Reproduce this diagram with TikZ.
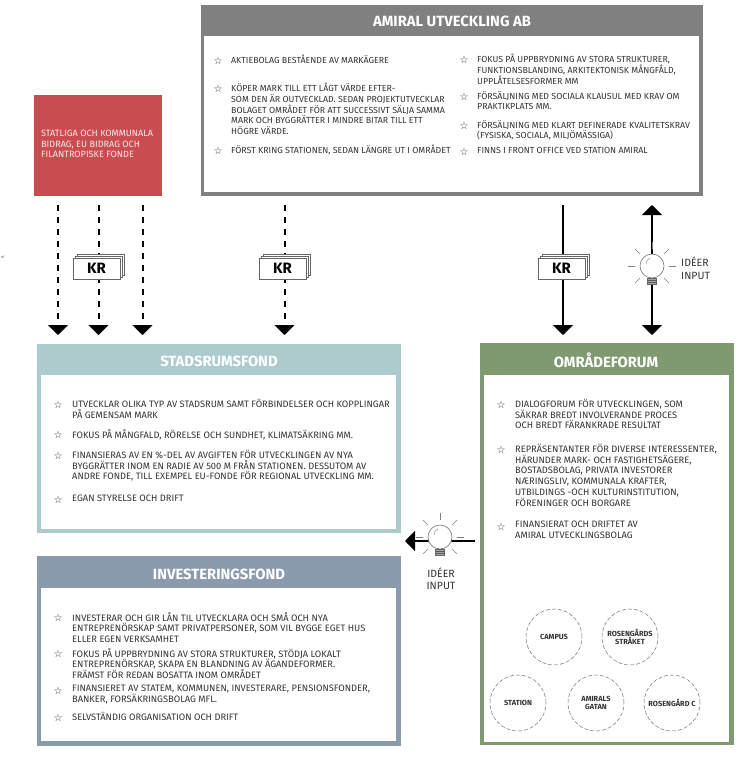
\documentclass[tikz,border=0pt]{standalone}
\usepackage{fontspec}
\setmainfont{Fira Sans}
\newfontfamily\starfont{DejaVu Sans}
\usetikzlibrary{arrows.meta,shadows}
\definecolor{amiralgray}{HTML}{808080}
\definecolor{fundred}{HTML}{C94C51}
\definecolor{stadteal}{HTML}{ADCBCC}
\definecolor{investblue}{HTML}{8A9BAE}
\definecolor{forumgreen}{HTML}{7F9A70}
\definecolor{inktext}{HTML}{333333}
\tikzset{
  itemtext/.style={anchor=north west, inner sep=0pt, yshift=5pt, align=left, text=inktext,
    font=\fontsize{9.3}{10.7}\selectfont, execute at begin node=\strut},
  amiraltext/.style={itemtext, font=\fontsize{8.8}{10.7}\selectfont},
  itemstar/.style={inner sep=0pt, yshift=-.5pt, text=inktext, font=\starfont\fontsize{10}{10}\selectfont},
  headtext/.style={inner sep=0pt, text=white, font=\bfseries\fontsize{14.8}{15}\selectfont},
  krbox/.style={draw=black!60, fill=white, line width=.6pt, inner sep=0pt,
    minimum width=47pt, minimum height=21pt, font=\bfseries\fontsize{15}{16}\selectfont,
    double copy shadow={shadow xshift=2pt, shadow yshift=2pt, draw=black!60, fill=white}},
  moneyflow/.style={line width=2pt, black, dash pattern=on 6pt off 6pt, -{Triangle[width=20pt,length=10pt]}},
  solidflow/.style={line width=2pt, black, -{Triangle[width=20pt,length=10pt]}},
  placecirc/.style={circle, draw=black!55, dash pattern=on 4pt off 2pt, line width=.5pt, minimum size=56pt,
    inner sep=0pt, align=center, text=inktext, font=\fontsize{7.4}{8.6}\selectfont\bfseries},
  ideatext/.style={inner sep=0pt, align=left, text=inktext, font=\fontsize{10.5}{12.5}\selectfont},
  pics/bulb/.style={code={
    \foreach \ang in {0,45,90,135,180,225,315}
      \draw[black!50, line width=.6pt] (\ang:17pt) -- (\ang:24pt);
    \draw[black!55, fill=white, line width=.6pt] (0,0) circle (12pt);
    \draw[black!45, line width=.5pt] (-6,-2) arc (180:110:6.5pt);
    \draw[black!60, fill=black!35, line width=.5pt] (-4.5,12) rectangle (4.5,18);
    \draw[black!65, line width=.5pt] (-4.5,14) -- (4.5,14) (-4.5,16) -- (4.5,16);
  }}
}
\begin{document}
\begin{tikzpicture}[x=1pt,y=-1pt]
\useasboundingbox (0,0) rectangle (755,757);
% panels
\fill[amiralgray] (201,5) rectangle (703,196);
\fill[white] (204,36) rectangle (699,192);
\fill[fundred] (34,95) rectangle (162,196);
\fill[stadteal] (37,344) rectangle (401,533);
\fill[white] (41,375) rectangle (396,529);
\fill[investblue] (37,556) rectangle (401,746);
\fill[white] (41,588) rectangle (396,741);
\fill[forumgreen] (480,343) rectangle (734,745);
\fill[white] (484,375) rectangle (729,742);
% headers
\node[headtext] (amiralhead) at (452,21) {AMIRAL UTVECKLING AB};
\node[headtext] (stadhead) at (219,361) {STADSRUMSFOND};
\node[headtext] (investhead) at (219,574) {INVESTERINGSFOND};
\node[headtext] (forumhead) at (606,360) {OMRÅDEFORUM};
% left over from the source page
\node[inner sep=0pt, text=black!60, font=\fontsize{4}{4}\selectfont] (edgenote) at (3,257) {et};
% funding text
\node[itemtext, text=white!88!fundred, font=\fontsize{9.1}{10.7}\selectfont] (fundtext) at (41,135)
  {STATLIGA OCH KOMMUNALA\\BIDRAG, EU BIDRAG OCH\\FILANTROPISKE FONDE};
% Amiral, first column
\node[itemstar] (as1) at (218,60) {☆};
\node[amiraltext] (at1) at (231,60) {AKTIEBOLAG BESTÅENDE AV MARKÄGERE};
\node[itemstar] (as2) at (218,88) {☆};
\node[amiraltext] (at2) at (231,88) {KÖPER MARK TILL ETT LÅGT VÄRDE EFTER-\\SOM DEN ÄR OUTVECKLAD. SEDAN PROJEKTUTVECKLAR\\BOLAGET OMRÅDET FÖR ATT SUCCESSIVT SÄLJA SAMMA\\MARK OCH BYGGRÄTTER I MINDRE BITAR TILL ETT\\HÖGRE VÄRDE.};
\node[itemstar] (as3) at (218,150) {☆};
\node[amiraltext] (at3) at (231,150) {FÖRST KRING STATIONEN, SEDAN LÄNGRE UT I OMRÅDET};
% Amiral, second column
\node[itemstar] (as4) at (464,59) {☆};
\node[amiraltext] (at4) at (477,59) {FOKUS PÅ UPPBRYDNING AV STORA STRUKTURER,\\FUNKTIONSBLANDING, ARKITEKTONISK MÅNGFÅLD,\\UPPLÅTELSESFORMER MM};
\node[itemstar] (as5) at (464,96) {☆};
\node[amiraltext] (at5) at (477,96) {FÖRSÄLJNING MED SOCIALA KLAUSUL MED KRAV OM\\PRAKTIKPLATS MM.};
\node[itemstar] (as6) at (464,125) {☆};
\node[amiraltext] (at6) at (477,125) {FÖRSÄLJNING MED KLART DEFINERADE KVALITETSKRAV\\(FYSISKA, SOCIALA, MILJÖMÄSSIGA)};
\node[itemstar] (as7) at (464,151) {☆};
\node[amiraltext] (at7) at (477,151) {FINNS I FRONT OFFICE VED STATION AMIRAL};
% Stadsrumsfond
\node[itemstar] (ss1) at (58,404) {☆};
\node[itemtext] (st1) at (72,404) {UTVECKLAR OLIKA TYP AV STADSRUM SAMT FÖRBINDELSER OCH KOPPLINGAR\\PÅ GEMENSAM MARK};
\node[itemstar] (ss2) at (58,434) {☆};
\node[itemtext] (st2) at (72,434) {FOKUS PÅ MÅNGFALD, RÖRELSE OCH SUNDHET, KLIMATSÄKRING MM.};
\node[itemstar] (ss3) at (58,455) {☆};
\node[itemtext] (st3) at (72,455) {FINANSIERAS AV EN \%-DEL AV AVGIFTEN FÖR UTVECKLINGEN AV NYA\\BYGGRÄTTER INOM EN RADIE AV 500 M FRÅN STATIONEN. DESSUTOM AV\\ANDRE FONDE, TILL EXEMPEL EU-FONDE FÖR REGIONAL UTVECKLING MM.};
\node[itemstar] (ss4) at (58,499) {☆};
\node[itemtext] (st4) at (72,499) {EGAN STYRELSE OCH DRIFT};
% Investeringsfond
\node[itemstar] (is1) at (58,617) {☆};
\node[itemtext] (it1) at (72,617) {INVESTERAR OCH GIR LÅN TIL UTVECKLARA OCH SMÅ OCH NYA\\ENTREPRENÖRSKAP SAMT PRIVATPERSONER, SOM VIL BYGGE EGET HUS\\ELLER EGEN VERKSAMHET};
\node[itemstar] (is2) at (58,653) {☆};
\node[itemtext] (it2) at (72,653) {FOKUS PÅ UPPBRYDNING AV STORA STRUKTURER, STÖDJA LOKALT\\ENTREPRENÖRSKAP, SKAPA EN BLANDNING AV ÄGANDEFORMER.\\FRÄMST FÖR REDAN BOSATTA INOM OMRÅDET};
\node[itemstar] (is3) at (58,690) {☆};
\node[itemtext] (it3) at (72,690) {FINANSIERET AV STATEM, KOMMUNEN, INVESTERARE, PENSIONSFONDER,\\BANKER, FORSÄKRINGSBOLAG MFL.};
\node[itemstar] (is4) at (58,717) {☆};
\node[itemtext] (it4) at (72,717) {SELVSTÄNDIG ORGANISATION OCH DRIFT};
% Omradeforum
\node[itemstar] (fs1) at (501,404) {☆};
\node[itemtext] (ft1) at (515,404) {DIALOGFORUM FÖR UTVECKLINGEN, SOM\\SÄKRAR BREDT INVOLVERANDE PROCES\\OCH BREDT FÄRANKRADE RESULTAT};
\node[itemstar] (fs2) at (501,449) {☆};
\node[itemtext] (ft2) at (515,449) {REPRÄSENTANTER FÖR DIVERSE INTERESSENTER,\\HÄRUNDER MARK- OCH FASTIGHETSÄGERE,\\BOSTADSBOLAG, PRIVATA INVESTORER\\NÆRINGSLIV, KOMMUNALA KRAFTER,\\UTBILDINGS -OCH KULTURINSTITUTION,\\FÖRENINGER OCH BORGARE};
\node[itemstar] (fs3) at (501,526) {☆};
\node[itemtext] (ft3) at (515,526) {FINANSIERAT OCH DRIFTET AV\\AMIRAL UTVECKLINGSBOLAG};
% places
\node[placecirc] (campus) at (554,637) {CAMPUS};
\node[placecirc] (straket) at (630,637) {ROSENGÅRDS\\STRÅKET};
\node[placecirc] (station) at (518,703) {STATION};
\node[placecirc] (gatan) at (596,703) {AMIRALS\\GATAN};
\node[placecirc] (rosenc) at (672,703) {ROSENGÅRD C};
% flows
\foreach \n/\xx in {a/58,b/98.5,c/142.5,d/284.5}{
  \coordinate (top\n) at (\xx,205);
  \coordinate (end\n) at (\xx,335);
  \draw[moneyflow] (top\n) -- (end\n);
}
\coordinate (tope) at (563,205);
\coordinate (ende) at (563,335);
\draw[solidflow] (tope) -- (ende);
\coordinate (ideaup) at (652,205);
\coordinate (ideadown) at (652,335);
\coordinate (ideamid) at (652,266);
\draw[solidflow] (ideamid) -- (ideaup);
\draw[solidflow] (ideamid) -- (ideadown);
\coordinate (sidefrom) at (475,541);
\coordinate (sideto) at (405,541);
\draw[solidflow] (sidefrom) -- (sideto);
% money
\node[krbox] (kra) at (96.5,268.5) {KR};
\node[krbox] (krb) at (282.5,268.5) {KR};
\node[krbox] (krc) at (561.5,268.5) {KR};
% ideas
\pic (bulba) at (652,266) {bulb};
\pic (bulbb) at (440,537) {bulb};
\node[ideatext, anchor=west] (ideatexta) at (681,268.5) {IDÉER\\INPUT};
\node[ideatext, align=center] (ideatextb) at (441,579) {IDÉER\\INPUT};
\end{tikzpicture}
\end{document}
